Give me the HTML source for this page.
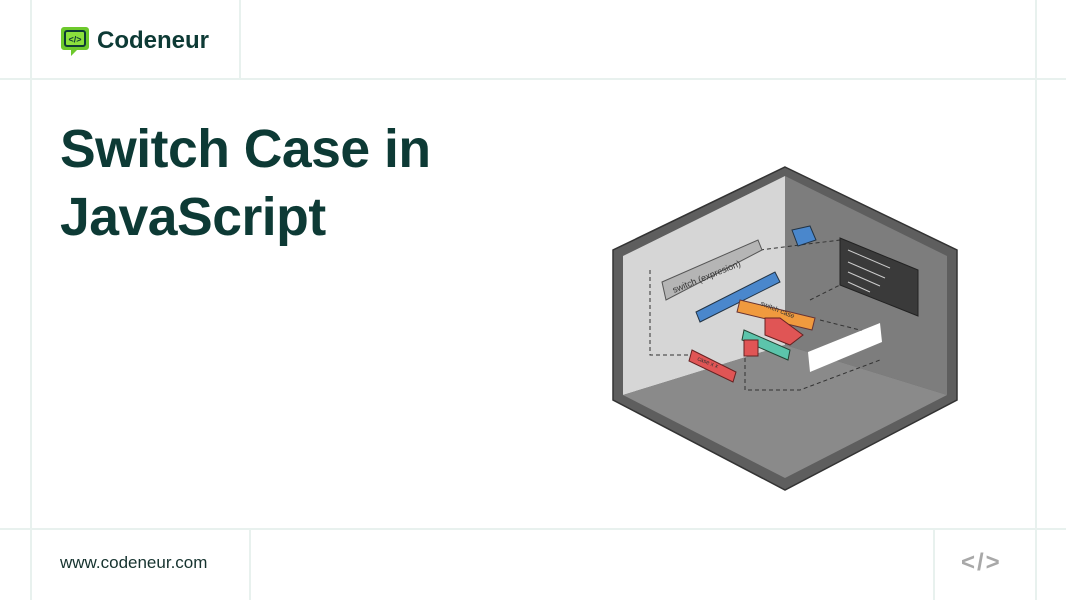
<!DOCTYPE html>
<html><head><meta charset="utf-8"><style>
body{margin:0;width:1066px;height:600px;background:#fff;position:relative;overflow:hidden;font-family:"Liberation Sans",sans-serif}
.l{position:absolute;background:#e8f1ee}
.t{position:absolute;left:60px;font-weight:bold;font-size:53.5px;color:#0d3a35;letter-spacing:-0.5px}
</style></head><body>
<div class="l" style="left:0;top:78px;width:1066px;height:2px"></div>
<div class="l" style="left:0;top:528px;width:1066px;height:2px"></div>
<div class="l" style="left:30px;top:0;width:2px;height:600px"></div>
<div class="l" style="left:1035px;top:0;width:2px;height:600px"></div>
<div class="l" style="left:239px;top:0;width:2px;height:78px"></div>
<div class="l" style="left:249px;top:529px;width:2px;height:71px"></div>
<div class="l" style="left:933px;top:529px;width:2px;height:71px"></div>
<svg style="position:absolute;left:60px;top:26px" width="32" height="32" viewBox="0 0 32 32">
<path d="M4 1h22a3 3 0 0 1 3 3v17a3 3 0 0 1-3 3H17l-6 6v-6H4a3 3 0 0 1-3-3V4a3 3 0 0 1 3-3z" fill="#6dc92c"/>
<rect x="5" y="5" width="20" height="15" rx="2" fill="#8be03c" stroke="#0d3a35" stroke-width="2"/>
<text x="15" y="16.5" font-size="9" font-weight="bold" fill="#0d3a35" text-anchor="middle" font-family="Liberation Sans">&lt;/&gt;</text></svg>
<div style="position:absolute;left:97px;top:27px;font-size:24px;font-weight:bold;color:#0d3a35">Codeneur</div>
<div class="t" style="top:119px">Switch Case in</div>
<div class="t" style="top:187px">JavaScript</div>
<div style="position:absolute;left:60px;top:553px;font-size:17px;color:#16332f">www.codeneur.com</div>
<div style="position:absolute;left:961px;top:549px;font-size:24px;font-weight:bold;color:#a8a8a8;letter-spacing:2px">&lt;/&gt;</div>
<svg style="position:absolute;left:0;top:0" width="1066" height="600">
<polygon points="785,167 957,250 957,400 785,490 613,400 613,250" fill="#5e5e5e" stroke="#333" stroke-width="1.5"/>
<polygon points="785,176 785,345 623,395 623,256" fill="#d6d6d6"/>
<polygon points="785,176 947,256 947,395 785,345" fill="#7d7d7d"/>
<polygon points="623,395 785,345 947,395 785,478" fill="#8a8a8a"/>
<g fill="none" stroke="#333" stroke-dasharray="4,3" stroke-width="1">
<path d="M650 270 L650 355 L690 355"/><path d="M760 250 L840 240"/><path d="M745 330 L745 390 L800 390 L880 360"/><path d="M810 300 L840 285"/><path d="M820 320 L880 335"/>
</g>
<polygon points="662,282 758,240 762,250 666,300" fill="#b5b5b5" stroke="#555"/>
<text x="674" y="293" font-size="9" fill="#333" transform="rotate(-22 674 293)">switch (expresion)</text>
<polygon points="792,230 810,226 816,240 798,246" fill="#4a87cc" stroke="#234"/>
<polygon points="696,312 775,272 780,282 700,322" fill="#4a87cc" stroke="#234"/>
<polygon points="740,300 815,318 812,330 737,312" fill="#f09a3e" stroke="#633"/>
<text x="760" y="305" font-size="7" fill="#333" transform="rotate(22 760 305)">switch case</text>
<polygon points="765,318 780,318 803,335 790,345 765,335" fill="#e05555" stroke="#622"/>
<polygon points="744,330 790,350 788,360 742,340" fill="#5cc4ab" stroke="#243"/>
<polygon points="744,340 758,340 758,356 744,356" fill="#e05555" stroke="#622"/>
<polygon points="692,350 736,372 733,382 689,361" fill="#e05555" stroke="#622"/>
<text x="697" y="360" font-size="6" fill="#333" transform="rotate(22 697 360)">case x x</text>
<polygon points="808,352 880,323 882,342 810,372" fill="#fff"/>
<polygon points="840,238 918,270 918,316 840,285" fill="#3a3a3a" stroke="#222"/>
<g stroke="#ccc" stroke-width="1"><line x1="848" y1="250" x2="890" y2="268"/><line x1="848" y1="262" x2="885" y2="278"/><line x1="848" y1="272" x2="880" y2="286"/><line x1="848" y1="282" x2="870" y2="292"/></g>
</svg>
</body></html>
